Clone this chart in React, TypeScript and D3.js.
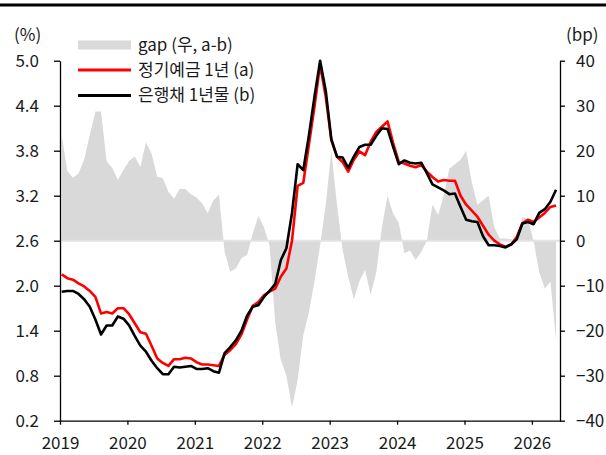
import React, { useEffect, useRef } from 'react';
import * as d3 from 'd3';

// monthly, 2019-01 .. 2026-05
const depositRate = [
  2.15, 2.10, 2.08, 2.03, 1.99, 1.93, 1.85, 1.63, 1.65, 1.63, 1.70, 1.70,
  1.62, 1.50, 1.38, 1.36, 1.20, 1.03, 0.97, 0.93, 1.02, 1.02, 1.04, 1.03,
  0.98, 0.95, 0.95, 0.94, 0.93, 1.08, 1.14, 1.22, 1.35, 1.55, 1.73, 1.78,
  1.87, 1.92, 1.96, 2.12, 2.23, 2.60, 3.33, 3.37, 3.88, 4.39, 4.95, 4.52,
  3.94, 3.72, 3.65, 3.52, 3.68, 3.79, 3.74, 3.92, 4.05, 4.12, 4.19, 3.90,
  3.65, 3.63, 3.60, 3.58, 3.61, 3.52, 3.45, 3.39, 3.41, 3.40, 3.40, 3.20,
  3.08, 3.00, 2.92, 2.80, 2.68, 2.60, 2.55, 2.52, 2.55, 2.65, 2.83, 2.88,
  2.85, 2.91, 2.97, 3.05, 3.07,
];

const bankBondRate = [
  1.92, 1.93, 1.93, 1.89, 1.82, 1.72, 1.55, 1.35, 1.47, 1.47, 1.59, 1.56,
  1.47, 1.33, 1.20, 1.12, 1.00, 0.90, 0.82, 0.82, 0.92, 0.91, 0.92, 0.93,
  0.89, 0.89, 0.90, 0.86, 0.84, 1.10, 1.18, 1.27, 1.40, 1.60, 1.72, 1.74,
  1.85, 1.93, 2.02, 2.34, 2.50, 2.97, 3.62, 3.54, 4.00, 4.52, 5.00, 4.60,
  3.95, 3.72, 3.71, 3.57, 3.72, 3.85, 3.88, 3.88, 4.00, 4.10, 4.09, 3.85,
  3.62, 3.67, 3.64, 3.63, 3.64, 3.50, 3.35, 3.31, 3.27, 3.22, 3.23, 3.05,
  2.88, 2.86, 2.85, 2.66, 2.54, 2.54, 2.53, 2.51, 2.55, 2.62, 2.83, 2.85,
  2.82, 2.97, 3.02, 3.12, 3.28,
];

const gapBp = [
  23.5, 15.5, 14.0, 15.0, 18.0, 23.5, 28.7, 28.7, 17.6, 16.2, 13.5, 15.7,
  17.7, 18.7, 16.4, 21.9, 19.4, 14.2, 13.9, 10.9, 9.3, 11.5, 11.5, 10.3,
  9.6, 8.3, 6.1, 9.0, 10.2, -2.5, -6.9, -6.1, -3.9, -3.2, 1.5, 5.5,
  3.0, -1, -18, -26.5, -30, -37, -31, -21, -16, -9, -1, 8,
  20, 8, -2, -8, -13, -9, -6.5, -12, -7, 3, 10, 6,
  4, -2.8, -2.2, -4.3, -2.5, 0, 8, 5.7, 10, 16, 17, 18,
  20, 13, 8, 9, 10, 3, 0.5, 0.5, 0.3, 0, 5.3, 4.6,
  0, -7, -10.6, -9.1, -22,
];

const years = [2019, 2020, 2021, 2022, 2023, 2024, 2025, 2026];
const leftTicks = [0.2, 0.8, 1.4, 2.0, 2.6, 3.2, 3.8, 4.4, 5.0];
const rightTicks = [-40, -30, -20, -10, 0, 10, 20, 30, 40];
const legendLabels = ['gap (우, a-b)', '정기예금 1년 (a)', '은행채 1년물 (b)'];

const FONT = '"Noto Sans CJK KR", "Noto Sans", sans-serif';

const App = () => {
  const svgRef = useRef<SVGSVGElement | null>(null);

  useEffect(() => {
    const W = 606, H = 455;
    const left = 60, right = 560, top = 60.7, bottom = 420.7;

    const svg = d3.select(svgRef.current).attr('width', W).attr('height', H);
    svg.selectAll('*').remove();

    const x = d3.scaleLinear().domain([2019, 2019 + 89 / 12]).range([left, right]);
    const yL = d3.scaleLinear().domain([0.2, 5.0]).range([bottom, top]);
    const yR = d3.scaleLinear().domain([-40, 40]).range([bottom, top]);
    const t = (i: number) => 2019 + (i + 0.3) / 12;

    // top rule
    svg.append('rect').attr('x', 0).attr('y', 3.5).attr('width', W).attr('height', 3).attr('fill', '#000');

    // gap area
    const area = d3.area<number>()
      .x((_, i) => x(t(i)))
      .y0(yR(0))
      .y1(d => yR(d));
    svg.append('path').datum(gapBp).attr('d', area).attr('fill', '#d9d9d9');
    svg.append('line')
      .attr('x1', left).attr('x2', right)
      .attr('y1', yR(0)).attr('y2', yR(0))
      .attr('stroke', '#e3e3e3').attr('stroke-width', 2);

    const line = d3.line<number>().x((_, i) => x(t(i))).y(d => yL(d));
    svg.append('path').datum(depositRate).attr('d', line)
      .attr('fill', 'none').attr('stroke', '#ff0000').attr('stroke-width', 2.6).attr('stroke-linejoin', 'round');
    svg.append('path').datum(bankBondRate).attr('d', line)
      .attr('fill', 'none').attr('stroke', '#000').attr('stroke-width', 2.6).attr('stroke-linejoin', 'round');

    // axes
    const styleAxis = (g: any) => {
      g.selectAll('path, line').attr('stroke', '#000').attr('stroke-width', 1.3);
      g.selectAll('text').attr('fill', '#1a1a1a').style('font-family', FONT).style('font-size', '17px');
    };

    svg.append('g')
      .attr('transform', `translate(${left},0)`)
      .call(d3.axisLeft(yL).tickValues(leftTicks).tickFormat(d3.format('.1f')).tickSize(6).tickSizeOuter(0).tickPadding(15))
      .call(styleAxis);

    svg.append('g')
      .attr('transform', `translate(${right},0)`)
      .call(d3.axisRight(yR).tickValues(rightTicks).tickFormat(d3.format('d')).tickSize(5).tickSizeOuter(0).tickPadding(11))
      .call(styleAxis);

    svg.append('g')
      .attr('transform', `translate(0,${bottom})`)
      .call(d3.axisBottom(x).tickValues(years).tickFormat(d3.format('d')).tickSize(4).tickSizeOuter(0).tickPadding(12))
      .call(styleAxis);

    // unit labels
    svg.append('text').attr('x', 14).attr('y', 41).text('(%)')
      .attr('fill', '#1a1a1a').style('font-family', FONT).style('font-size', '17px');
    svg.append('text').attr('x', 566).attr('y', 41).text('(bp)')
      .attr('fill', '#1a1a1a').style('font-family', FONT).style('font-size', '17px');

    // legend
    const lg = svg.append('g');
    lg.append('rect').attr('x', 78).attr('y', 40.5).attr('width', 53).attr('height', 9).attr('fill', '#d9d9d9');
    lg.append('line').attr('x1', 78).attr('x2', 131).attr('y1', 70).attr('y2', 70)
      .attr('stroke', '#ff0000').attr('stroke-width', 3);
    lg.append('line').attr('x1', 78).attr('x2', 131).attr('y1', 95.5).attr('y2', 95.5)
      .attr('stroke', '#000').attr('stroke-width', 3);
    const ys = [45.5, 70, 95.5];
    legendLabels.forEach((lab, i) => {
      lg.append('text').attr('x', 138).attr('y', ys[i]).attr('dy', '0.35em').text(lab)
        .attr('fill', '#1a1a1a').style('font-family', FONT).style('font-size', '17px');
    });
  }, []);

  return (
    <div style={{ position: 'absolute', left: 0, top: 0 }}>
      <svg ref={svgRef} style={{ display: 'block' }}></svg>
    </div>
  );
};

export default App;
